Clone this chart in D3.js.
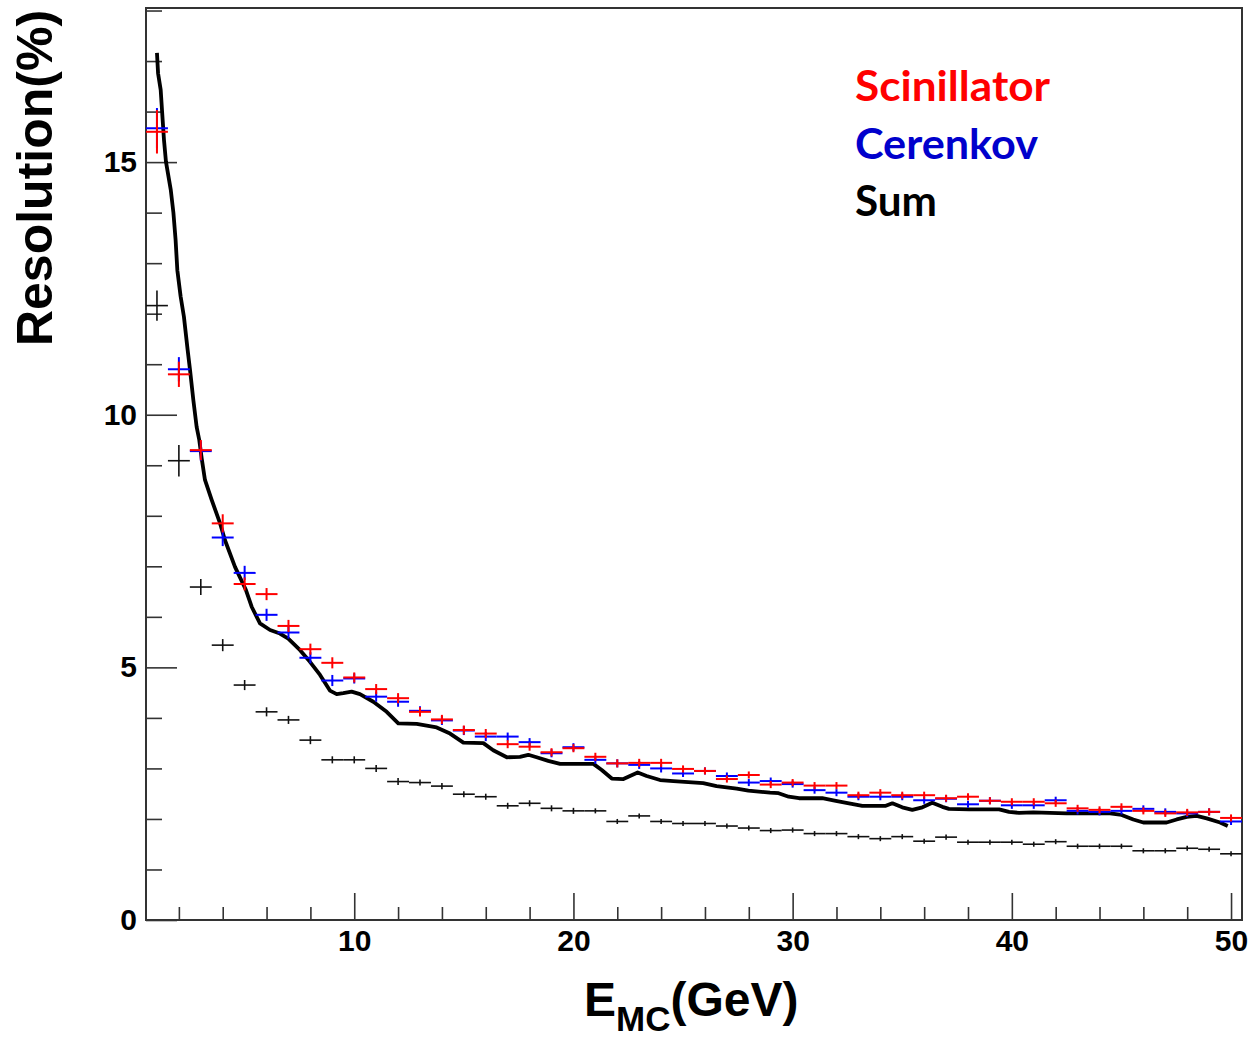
<!DOCTYPE html>
<html>
<head>
<meta charset="utf-8">
<script src="https://cdn.jsdelivr.net/npm/d3@7"></script>
<style>
  html, body { margin: 0; padding: 0; background: #fff; }
  svg { display: block; }
</style>
</head>
<body>
<svg id="chart" width="1248" height="1038"></svg>
<script>
// ---------------- data ----------------
const energies = [1,2,3,4,5,6,7,8,9,10,11,12,13,14,15,16,17,18,19,20,21,22,23,24,25,
                  26,27,28,29,30,31,32,33,34,35,36,37,38,39,40,41,42,43,44,45,46,47,48,49,50];

const scintRes = [15.60,10.80,9.30,7.85,6.65,6.45,5.82,5.36,5.09,4.80,4.57,4.39,4.12,3.97,3.76,3.69,3.48,3.43,3.32,3.40,
                  3.23,3.10,3.11,3.11,2.99,2.95,2.79,2.87,2.68,2.72,2.66,2.66,2.47,2.52,2.47,2.47,2.41,2.44,2.36,2.34,
                  2.34,2.31,2.21,2.18,2.24,2.16,2.11,2.13,2.14,2.02];
const scintErr = [0.43,0.25,0.20,0.18,0.13,0.12,0.12,0.11,0.11,0.10,0.10,0.10,0.09,0.09,0.09,0.09,0.08,0.08,0.08,0.08,
                  0.08,0.08,0.08,0.08,0.07,0.07,0.07,0.07,0.07,0.07,0.07,0.07,0.07,0.07,0.07,0.07,0.07,0.07,0.07,0.07,
                  0.07,0.07,0.07,0.07,0.07,0.07,0.07,0.07,0.07,0.07];

const cerenRes = [15.67,10.90,9.28,7.57,6.87,6.04,5.69,5.19,4.74,4.78,4.42,4.32,4.14,3.95,3.75,3.63,3.63,3.52,3.30,3.42,
                  3.17,3.10,3.07,3.00,2.90,2.95,2.85,2.72,2.75,2.69,2.57,2.52,2.44,2.44,2.44,2.37,2.40,2.29,2.36,2.27,
                  2.27,2.37,2.16,2.14,2.16,2.20,2.14,2.11,2.14,1.95];
const cerenErr = [0.40,0.24,0.19,0.17,0.14,0.12,0.12,0.11,0.11,0.10,0.10,0.10,0.09,0.09,0.09,0.09,0.08,0.08,0.08,0.08,
                  0.08,0.08,0.08,0.08,0.07,0.07,0.07,0.07,0.07,0.07,0.07,0.07,0.07,0.07,0.07,0.07,0.07,0.07,0.07,0.07,
                  0.07,0.07,0.07,0.07,0.07,0.07,0.07,0.07,0.07,0.07];

const sumRes = [12.16,9.09,6.59,5.44,4.65,4.12,3.96,3.56,3.17,3.17,3.00,2.74,2.72,2.65,2.49,2.44,2.26,2.31,2.21,2.16,
                2.16,1.95,2.06,1.95,1.91,1.91,1.86,1.82,1.77,1.78,1.71,1.71,1.65,1.61,1.65,1.56,1.64,1.54,1.54,1.54,
                1.50,1.55,1.46,1.46,1.46,1.37,1.37,1.42,1.40,1.31];
const sumErr = [0.30,0.31,0.16,0.12,0.10,0.09,0.08,0.08,0.07,0.07,0.07,0.07,0.06,0.06,0.06,0.06,0.06,0.06,0.06,0.06,
                0.05,0.05,0.05,0.05,0.05,0.05,0.05,0.05,0.05,0.05,0.05,0.05,0.05,0.05,0.05,0.05,0.05,0.05,0.05,0.05,
                0.05,0.05,0.05,0.05,0.05,0.05,0.05,0.05,0.05,0.05];

// thick black curve
const curveE   = [1.00,1.05,1.17,1.23,1.32,1.41,1.63,1.75,1.85,1.93,2.08,2.23,2.40,2.51,2.66,2.81,2.93,3.04,3.19,3.50,
                  3.88,4.10,4.56,5.06,5.32,5.70,6.16,6.61,6.99,7.53,7.98,8.44,8.89,9.20,9.50,9.88,10.26,10.87,11.48,12.01,
                  12.85,13.76,14.37,14.98,15.89,16.34,16.96,17.56,17.94,18.32,18.85,19.39,20.91,21.29,21.75,22.28,22.58,22.93,23.34,23.95,
                  24.56,25.92,26.53,27.45,27.98,28.97,29.36,29.82,30.29,31.35,31.97,32.57,33.18,34.25,34.55,35.00,35.46,35.92,36.37,36.83,
                  37.13,38.05,39.42,39.87,40.33,40.98,42.50,44.48,45.01,45.54,46.00,47.06,47.52,47.98,48.43,48.89,49.50,49.85];
const curveRes = [17.16,16.76,16.43,16.03,15.44,15.01,14.45,14.00,13.46,12.86,12.34,11.94,11.28,10.88,10.29,9.76,9.50,9.14,8.71,8.31,
                  7.85,7.52,6.99,6.53,6.20,5.87,5.74,5.67,5.57,5.34,5.11,4.85,4.54,4.47,4.49,4.52,4.47,4.32,4.12,3.89,
                  3.88,3.81,3.69,3.51,3.50,3.36,3.22,3.23,3.27,3.22,3.15,3.09,3.09,2.97,2.80,2.79,2.85,2.92,2.85,2.77,
                  2.75,2.71,2.65,2.60,2.56,2.52,2.51,2.44,2.41,2.41,2.36,2.31,2.26,2.26,2.31,2.23,2.18,2.23,2.32,2.24,
                  2.20,2.19,2.19,2.14,2.12,2.13,2.11,2.11,2.08,1.99,1.93,1.93,1.99,2.04,2.06,2.01,1.93,1.86];

const xMajorTicks = [10,20,30,40,50];
const xMinorTicks = [2,4,6,8,12,14,16,18,22,24,26,28,32,34,36,38,42,44,46,48];
const yMajorTicks = [0,5,10,15];
const yMinorTicks = [1,2,3,4,6,7,8,9,11,12,13,14,16,17,18];

const legendLabels = ["Scinillator","Cerenkov","Sum"];

// ---------------- layout ----------------
const L = 146, R = 1242, T = 8, B = 920;
const svg = d3.select("#chart");

const x = d3.scaleLinear().domain([0.5, 50.5]).range([L, R]);
const y = d3.scaleLinear().domain([0, 18.05]).range([B, T]);

const tickColor = "#333";

svg.append("g").attr("transform", `translate(0,${B})`)
  .call(d3.axisBottom(x).tickValues(xMinorTicks).tickSizeInner(-13).tickSizeOuter(0).tickFormat(""))
  .call(g => g.select(".domain").remove())
  .call(g => g.selectAll("line").attr("stroke", tickColor).attr("stroke-width", 1.6));
svg.append("g").attr("transform", `translate(0,${B})`)
  .call(d3.axisBottom(x).tickValues(xMajorTicks).tickSizeInner(-27).tickSizeOuter(0).tickPadding(10).tickFormat(d3.format("d")))
  .call(g => g.select(".domain").remove())
  .call(g => g.selectAll("line").attr("stroke", tickColor).attr("stroke-width", 1.6))
  .call(g => g.selectAll("text").attr("fill", "#000")
     .style("font-family", "'Liberation Sans', Arial, sans-serif")
     .style("font-weight", "bold").style("font-size", "30px"));

svg.append("g").attr("transform", `translate(${L},0)`)
  .call(d3.axisLeft(y).tickValues(yMinorTicks).tickSizeInner(-16).tickSizeOuter(0).tickFormat(""))
  .call(g => g.select(".domain").remove())
  .call(g => g.selectAll("line").attr("stroke", tickColor).attr("stroke-width", 1.6));
svg.append("g").attr("transform", `translate(${L},0)`)
  .call(d3.axisLeft(y).tickValues(yMajorTicks).tickSizeInner(-31).tickSizeOuter(0).tickPadding(9).tickFormat(d3.format("d")))
  .call(g => g.select(".domain").remove())
  .call(g => g.selectAll("line").attr("stroke", tickColor).attr("stroke-width", 1.6))
  .call(g => g.selectAll("text").attr("fill", "#000")
     .style("font-family", "'Liberation Sans', Arial, sans-serif")
     .style("font-weight", "bold").style("font-size", "30px"));

svg.append("rect").attr("x", L).attr("y", T).attr("width", R - L).attr("height", B - T)
  .attr("fill", "none").attr("stroke", tickColor).attr("stroke-width", 2);

svg.append("clipPath").attr("id", "clip").append("rect")
  .attr("x", L).attr("y", T).attr("width", R - L).attr("height", B - T);
const plot = svg.append("g").attr("clip-path", "url(#clip)");

const curveData = curveE.map((e, i) => [e, curveRes[i]]);
plot.append("path").datum(curveData)
  .attr("d", d3.line().x(d => x(d[0])).y(d => y(d[1])))
  .attr("fill", "none").attr("stroke", "#000").attr("stroke-width", 3.8)
  .attr("stroke-linejoin", "round");

function drawCrosses(vals, errs, color, width) {
  const g = plot.append("g").attr("stroke", color).attr("stroke-width", width);
  const data = energies.map((e, i) => ({e, v: vals[i], err: errs[i]}));
  g.selectAll(".h").data(data).join("line")
    .attr("x1", d => x(d.e - 0.5)).attr("x2", d => x(d.e + 0.5))
    .attr("y1", d => y(d.v)).attr("y2", d => y(d.v));
  g.selectAll(".v").data(data).join("line")
    .attr("x1", d => x(d.e)).attr("x2", d => x(d.e))
    .attr("y1", d => y(d.v - d.err)).attr("y2", d => y(d.v + d.err));
}
drawCrosses(sumRes, sumErr, "#111", 1.6);
drawCrosses(cerenRes, cerenErr, "#0000ff", 2);
drawCrosses(scintRes, scintErr, "#ff0000", 2);

const legendColors = ["#ff0000", "#0000cc", "#000000"];
const legendWidths = [195, 183, 82];
const legendBase = [101, 159, 216];
legendLabels.forEach((t, i) => {
  svg.append("text").attr("x", 855).attr("y", legendBase[i])
    .attr("fill", legendColors[i])
    .attr("textLength", legendWidths[i]).attr("lengthAdjust", "spacingAndGlyphs")
    .style("font-family", "Lato, 'Open Sans', sans-serif").style("font-weight", "bold")
    .style("font-size", "42px").text(t);
});

const xt = svg.append("text").attr("x", 584).attr("y", 1016)
  .style("font-family", "'Liberation Sans', Arial, sans-serif").style("font-weight", "bold")
  .style("font-size", "48px").attr("fill", "#000");
xt.append("tspan").text("E");
xt.append("tspan").attr("dy", 15).style("font-size", "35px").text("MC");
xt.append("tspan").attr("dy", -15).text("(GeV)");

svg.append("text").attr("transform", "translate(52,178) rotate(-90)")
  .attr("text-anchor", "middle")
  .style("font-family", "'Liberation Sans', Arial, sans-serif").style("font-weight", "bold")
  .style("font-size", "50px").attr("fill", "#000").text("Resolution(%)");
</script>
</body>
</html>
